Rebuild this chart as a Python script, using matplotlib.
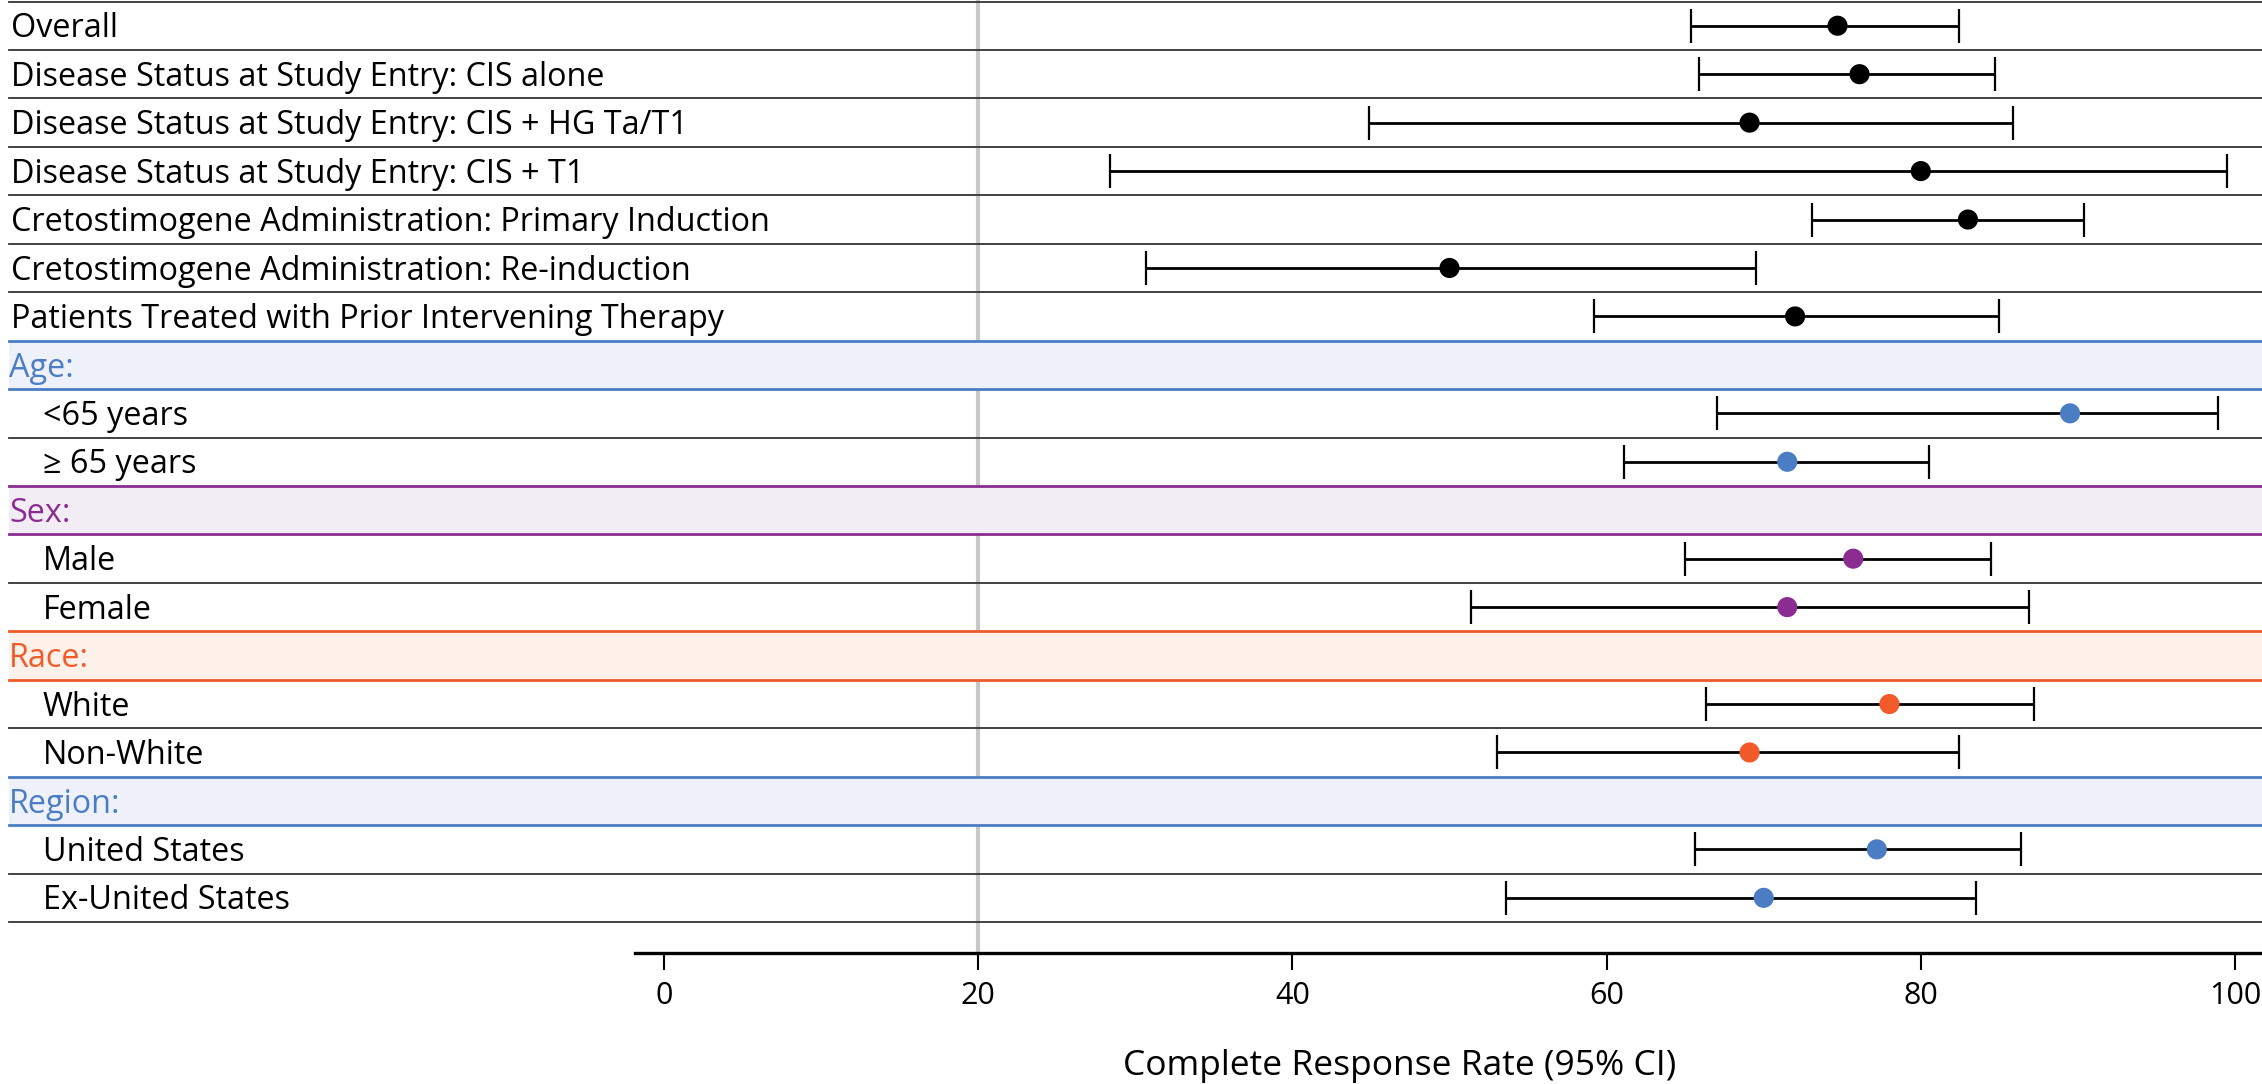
import matplotlib

matplotlib.use("Agg")
import matplotlib.pyplot as plt

plt.rcParams["font.family"] = ["Open Sans", "DejaVu Sans"]

# rows in the top block (no subgroup header)
MAIN_LABELS = [
    "Overall",
    "Disease Status at Study Entry: CIS alone",
    "Disease Status at Study Entry: CIS + HG Ta/T1",
    "Disease Status at Study Entry: CIS + T1",
    "Cretostimogene Administration: Primary Induction",
    "Cretostimogene Administration: Re-induction",
    "Patients Treated with Prior Intervening Therapy",
]
MAIN_RATE = [74.7, 76.1, 69.1, 80.0, 83.0, 50.0, 72.0]
MAIN_LOW = [65.4, 65.9, 44.9, 28.4, 73.1, 30.7, 59.2]
MAIN_HIGH = [82.4, 84.7, 85.9, 99.5, 90.4, 69.5, 85.0]

# subgroups
GROUP_HEADERS = ["Age:", "Sex:", "Race:", "Region:"]
GROUP_LABELS = [
    ["<65 years", "≥ 65 years"],
    ["Male", "Female"],
    ["White", "Non-White"],
    ["United States", "Ex-United States"],
]
GROUP_RATE = [[89.5, 71.5], [75.7, 71.5], [78.0, 69.1], [77.2, 70.0]]
GROUP_LOW = [[67.0, 61.1], [65.0, 51.4], [66.3, 53.0], [65.6, 53.6]]
GROUP_HIGH = [[98.9, 80.5], [84.5, 86.9], [87.2, 82.4], [86.4, 83.5]]

GROUP_COLORS = ["#4a7dc4", "#8b2d90", "#f25a29", "#4a7dc4"]
GROUP_BG = ["#eef1fa", "#f2ecf5", "#fef1ea", "#eef1fa"]

X_TICKS = [0, 20, 40, 60, 80, 100]
X_LABEL = "Complete Response Rate (95% CI)"

FONT_SIZE = 23.3
TEXT_DY = 0.74  # baseline offset inside a row
LINE_X0 = 9 / 2262

fig = plt.figure(figsize=(22.62, 10.84), dpi=100)
ax = fig.add_axes([0, (1084 - 953) / 1084, 1, 953 / 1084])

row_px = 48.45
ax.set_xlim(-664 / 15.71, (2262 - 664) / 15.71)
ax.set_ylim((953 - 1.5) / row_px, -1.5 / row_px)

ylab = ax.get_yaxis_transform()

# build rows
ys, rates, lows, highs, colors = [], [], [], [], []
row = 0
for label, r, lo, hi in zip(MAIN_LABELS, MAIN_RATE, MAIN_LOW, MAIN_HIGH):
    ax.text(11 / 2262, row + TEXT_DY, label, transform=ylab, ha="left",
            va="baseline", fontsize=FONT_SIZE, color="black")
    ax.axhline(row, xmin=LINE_X0, xmax=1, color="#333333", lw=1.3, zorder=2)
    ys.append(row + 0.5)
    rates.append(r)
    lows.append(lo)
    highs.append(hi)
    colors.append("black")
    row += 1

for header, labels, gr, glo, ghi, col, bg in zip(
    GROUP_HEADERS, GROUP_LABELS, GROUP_RATE, GROUP_LOW, GROUP_HIGH,
    GROUP_COLORS, GROUP_BG,
):
    ax.axhspan(row, row + 1, xmin=LINE_X0, xmax=1, color=bg, lw=0, zorder=1.5)
    ax.text(9 / 2262, row + TEXT_DY, header, transform=ylab, ha="left",
            va="baseline", fontsize=FONT_SIZE, color=col)
    ax.axhline(row, xmin=LINE_X0, xmax=1, color=col, lw=2.0, zorder=2.5)
    ax.axhline(row + 1, xmin=LINE_X0, xmax=1, color=col, lw=2.0, zorder=2.5)
    row += 1
    for i, (label, r, lo, hi) in enumerate(zip(labels, gr, glo, ghi)):
        ax.text(43 / 2262, row + TEXT_DY, label, transform=ylab, ha="left",
                va="baseline", fontsize=FONT_SIZE, color="black")
        if i > 0:
            ax.axhline(row, xmin=LINE_X0, xmax=1, color="#333333", lw=1.3,
                       zorder=2)
        ys.append(row + 0.5)
        rates.append(r)
        lows.append(lo)
        highs.append(hi)
        colors.append(col)
        row += 1

ax.axhline(row, xmin=LINE_X0, xmax=1, color="#333333", lw=1.3, zorder=2)

# reference line at 20%
ax.axvline(20, color="#c8c8c8", lw=3.0, zorder=1)

xerr = [[r - lo for r, lo in zip(rates, lows)],
        [hi - r for r, hi in zip(rates, highs)]]
ax.errorbar(rates, ys, xerr=xerr, fmt="none", ecolor="black", elinewidth=2.0,
            capsize=12, capthick=1.6, zorder=3)
ax.scatter(rates, ys, s=210, c=colors, zorder=4, linewidths=0)

for side in ["top", "left", "right"]:
    ax.spines[side].set_visible(False)
ax.spines["bottom"].set_linewidth(2.4)
ax.spines["bottom"].set_bounds(-1.85, ax.get_xlim()[1])
ax.set_yticks([])
ax.set_xticks(X_TICKS)
ax.tick_params(axis="x", length=12, width=1.5, pad=8, labelsize=22)
ax.set_xlabel(X_LABEL, fontsize=25.5)
ax.xaxis.set_label_coords(1123 / 2262, -(1075 - 953) / 953)
ax.xaxis.label.set_va("baseline")
ax.xaxis.label.set_ha("left")

fig.savefig("out.png", dpi=100)
